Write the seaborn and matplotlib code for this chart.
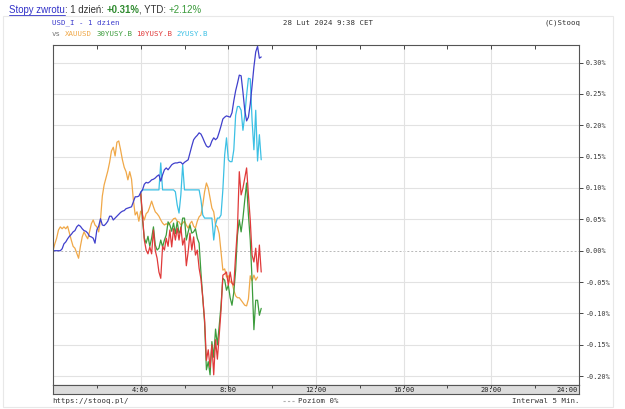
import matplotlib
matplotlib.use("Agg")
import matplotlib.pyplot as plt
from matplotlib.lines import Line2D
from matplotlib.patches import Rectangle
import seaborn as sns
import pandas as pd
import numpy as np

sns.set_style("white")
plt.rcParams['font.family'] = ['DejaVu Sans Mono']

W, H = 625, 409

# returns in hundredths of a percent, one value every 5 minutes from 0:00
usd_i = [0, 0, 0, 0, 0, 0.3, 1.1, 1.4, 1.9, 2.3,
         2.6, 3.0, 3.2, 3.8, 4.1, 3.9, 3.5, 3.2, 3.1, 2.8,
         2.3, 2.2, 2.0, 1.2, 3.3, 3.9, 5.1, 4.1, 4.0, 4.3,
         4.7, 5.5, 5.5, 4.9, 5.2, 5.5, 5.8, 6.1, 6.3, 6.4,
         6.7, 6.8, 6.9, 7.0, 7.8, 8.6, 8.6, 8.7, 9.3, 9.7,
         10.6, 10.9, 10.8, 11.0, 11.3, 11.4, 11.6, 11.9, 12.1, 11.1,
         12.1, 12.9, 13.2, 12.9, 13.3, 13.7, 13.9, 14.0, 14.0, 14.1,
         14.1, 13.8, 14.1, 14.3, 14.5, 15.6, 16.7, 17.7, 18.1, 18.4,
         18.8, 18.6, 18.0, 17.3, 16.7, 16.5, 16.7, 17.5, 18.0, 17.7,
         18.0, 18.9, 19.9, 21.0, 21.3, 21.5, 21.4, 21.3, 22.0, 23.9,
         25.5, 26.7, 28.0, 27.9, 25.3, 22.4, 20.7, 21.3, 23.4, 26.3,
         29.3, 31.7, 32.6, 30.7, 30.9]

xauusd = [0.0, 1.1, 2.0, 3.3, 3.8, 3.5, 3.8, 3.5, 3.9, 2.8,
          1.7, 0.7, 0.4, -0.4, -1.2, 0.7, 2.2, 3.0, 2.4, 1.9,
          3.0, 4.3, 4.9, 4.1, 3.8, 3.0, 4.9, 8.7, 10.5, 11.6,
          12.7, 14.1, 15.9, 16.5, 15.1, 17.3, 17.5, 16.1, 14.5, 13.3,
          12.6, 11.3, 12.6, 11.4, 8.1, 5.7, 6.2, 4.7, 6.3, 5.7,
          4.9, 5.9, 6.2, 7.0, 7.9, 7.0, 6.2, 5.9, 5.5, 4.9,
          4.4, 4.1, 4.3, 4.1, 4.4, 4.7, 5.1, 5.2, 4.7, 4.6,
          4.1, 4.4, 4.7, 4.1, 3.6, 4.3, 4.7, 3.9, 3.6, 4.7,
          5.4, 5.7, 7.3, 9.4, 10.8, 10.0, 8.4, 6.8, 6.2, 4.1,
          3.8, 2.7, -0.2, -3.1, -2.9, -4.2, -4.0, -5.0, -5.0, -6.3,
          -7.2, -7.5, -7.5, -7.9, -8.3, -8.7, -8.8, -7.7, -4.0, -4.8,
          -3.9, -4.7, -4.2]

# bond series start at 4:00 (step 48)
bond_start = 48
y30 = [9.3, 4.9, 2.0, 1.2, 2.3, 0.7, 2.0, 3.8, 0.9, 0.1,
       0.4, 1.7, 0.6, 1.7, 2.5, 4.6, 4.1, 3.1, 4.4, 2.7,
       4.6, 2.8, 3.3, 5.2, 5.2, 1.7, 3.0, 4.1, 2.8, 3.0,
       3.5, 2.0, 1.2, -3.5, -7.5, -11.5, -19.0, -17.7, -19.8, -14.5,
       -17.0, -12.5, -15.0, -12.0, -8.7, -4.4, -4.7, -6.3, -5.5, -7.5,
       -8.7, -6.6, -3.1, 2.5, 4.9, 3.0, 5.2, 8.1, 10.8, 5.7,
       1.7, -4.7, -12.6, -7.9, -7.9, -10.3, -9.2]

y10 = [9.3, 5.7, 1.7, 0.1, -0.5, 0.6, -0.5, 3.3, 0.0, -1.2,
       -3.4, -4.4, 0.7, 0.1, 2.0, 0.7, 3.3, 0.6, 3.5, 1.7,
       3.6, 1.7, 3.8, 0.9, 2.0, -2.4, -0.2, 2.8, 0.1, 2.2,
       -0.7, 0.1, -2.8, -4.5, -7.5, -11.0, -17.5, -15.8, -18.6, -15.0,
       -19.8, -14.2, -17.3, -13.5, -9.5, -3.9, -3.7, -3.4, -5.5, -3.4,
       -5.2, -5.5, -0.7, 3.6, 12.6, 8.9, 10.0, 11.6, 13.2, 8.9,
       4.9, -0.7, -1.8, 0.4, -3.4, 0.9, -3.4]

y2 = [9.3] + [9.7] * 10 + [14.0] + [9.7] * 7 + [9.4, 7.3, 6.0, 8.9, 13.7] \
     + [9.7] * 9 + [8.1, 5.7] + [5.2] * 5 + [1.7, 4.2, 5.2, 5.2, 5.7] \
     + [9.7, 15.3, 18.0, 14.5, 14.2, 14.2, 16.1, 21.6, 23.0, 23.0,
        22.4, 19.2, 21.6, 24.8, 27.5, 27.4, 20.8, 16.1, 22.4, 14.3,
        18.5, 14.5]

series_names = ['XAUUSD', '30YUSY.B', '10YUSY.B', '2YUSY.B', 'USD_I']
colors = {'XAUUSD': '#f0a848', '30YUSY.B': '#3c9c3c', '10YUSY.B': '#e03a3a',
          '2YUSY.B': '#3cc0e4', 'USD_I': '#4040cc'}

x_ticks = [4, 8, 12, 16, 20, 24]
x_labels = ['4:00', '8:00', '12:00', '16:00', '20:00', '24:00']
y_ticks = [-0.20, -0.15, -0.10, -0.05, 0.00, 0.05, 0.10, 0.15, 0.20, 0.25, 0.30]


def frame(name, values, start=0):
    steps = np.arange(start, start + len(values))
    return pd.DataFrame({'time': steps * 5 / 60,
                         'value': np.array(values) / 100,
                         'series': name})


df = pd.concat([frame('USD_I', usd_i), frame('XAUUSD', xauusd),
                frame('30YUSY.B', y30, bond_start),
                frame('10YUSY.B', y10, bond_start),
                frame('2YUSY.B', y2, bond_start)], ignore_index=True)


def fx(x):
    return x / W


def fy(y):
    return 1 - y / H


fig = plt.figure(figsize=(W / 100, H / 100), dpi=100)
fig.patch.set_facecolor('white')
fig.add_artist(Rectangle((fx(3), fy(407)), fx(610), 391 / H, transform=fig.transFigure,
                         fill=False, edgecolor='#e8e8e8', lw=0.8))

top, bottom, left, right = 45, 385, 53, 579
ax = fig.add_axes([fx(left), fy(bottom), (right - left) / W, (bottom - top) / H])
zero_y = 250.7
ax.set_ylim((zero_y - bottom) / 627, (zero_y - top) / 627)
ax.set_xlim(0, 24)

sns.lineplot(data=df, x='time', y='value', hue='series', hue_order=series_names,
             palette=colors, estimator=None, sort=False, legend=False,
             linewidth=0.9, ax=ax)

ax.set_xlabel('')
ax.set_ylabel('')
ax.set_xticks(x_ticks[:-1])
ax.set_xticks(np.arange(2, 24, 4), minor=True)
ax.tick_params(axis='x', which='both', top=True, bottom=False, direction='in',
               length=3, labelbottom=False, color='#444444', width=0.7)
ax.xaxis.grid(True, which='major', color='#e2e2e2', lw=0.8)

ax.set_yticks(y_ticks)
ax.set_yticklabels([f'{v:.2f}%' for v in y_ticks])
ax.yaxis.tick_right()
ax.tick_params(axis='y', direction='out', length=3, pad=2, labelsize=4.9,
               labelcolor='#333333', color='#444444', width=0.7)
ax.yaxis.grid(True, color='#e2e2e2', lw=0.8)
for v, gl in zip(y_ticks, ax.get_ygridlines()):
    if abs(v) < 1e-9:
        gl.set_visible(False)
ax.axhline(0, color='#b8b8b8', lw=0.7, ls=(0, (2, 2)), zorder=0.5)
for s in ax.spines.values():
    s.set_color('#555555')
    s.set_linewidth(0.8)

# time band under the plot
band = fig.add_axes([fx(left), fy(394), (right - left) / W, 9 / H])
band.set_facecolor('#dcdcdc')
band.set_xlim(0, 24)
band.set_ylim(0, 1)
band.set_yticks([])
band.set_xticks(np.arange(2, 24, 2))
band.tick_params(axis='x', top=True, bottom=False, direction='in', length=2,
                 labelbottom=False, color='#444444', width=0.7)
for s in band.spines.values():
    s.set_color('#555555')
    s.set_linewidth(0.8)
for t, lab in zip(x_ticks, x_labels):
    ha = 'right' if t == 24 else 'center'
    band.text(t - (0.05 if t == 24 else 0), 0.45, lab, ha=ha, va='center',
              fontsize=5, color='#222222')

mono = 5.3
cw = 0.602 * mono / 72 * 100

# header line
renderer = fig.canvas.get_renderer()
pieces = [('Stopy zwrotu', '#3030c8', 'normal'), (': 1 dzień: ', '#333333', 'normal'),
          ('+0.31%', '#2e8a2e', 'bold'), (', YTD: ', '#333333', 'normal'),
          ('+2.12%', '#3a9a3a', 'normal')]
xpos = 9
for i, (txt, col, wt) in enumerate(pieces):
    t = fig.text(fx(xpos), fy(10), txt, fontsize=6.9, color=col, fontweight=wt,
                 family=['Liberation Sans', 'DejaVu Sans'], va='center', ha='left')
    w = t.get_window_extent(renderer).width
    if i == 0:
        fig.add_artist(Line2D([fx(xpos), fx(xpos + w)], [fy(15), fy(15)],
                              color='#3030c8', lw=0.6, transform=fig.transFigure))
    xpos += w

fig.text(fx(52), fy(23), 'USD_I - 1 dzien', fontsize=mono, color='#3a3acc', va='center')
fig.text(fx(328), fy(23), '28 Lut 2024 9:38 CET', fontsize=mono, color='#333333',
         va='center', ha='center')
fig.text(fx(581), fy(23), '(C)Stooq', fontsize=mono, color='#333333', va='center', ha='right')

vs_parts = [('vs', '#777777')] + [(n, colors[n]) for n in series_names[:4]]
col_idx = 0
for txt, col in vs_parts:
    fig.text(fx(52 + col_idx * cw), fy(34), txt, fontsize=mono, color=col, va='center')
    col_idx += len(txt) + 1

# footer
fig.text(fx(52), fy(401), 'https://stooq.pl/', fontsize=mono, color='#333333', va='center')
fig.add_artist(Line2D([fx(283), fx(295)], [fy(401), fy(401)], color='#b0b0b0', lw=0.8,
                      ls=(0, (2, 2)), transform=fig.transFigure))
fig.text(fx(298), fy(401), 'Poziom 0%', fontsize=mono, color='#333333', va='center')
fig.text(fx(580), fy(401), 'Interwal 5 Min.', fontsize=mono, color='#333333',
         va='center', ha='right')

fig.savefig('out.png', dpi=100)
